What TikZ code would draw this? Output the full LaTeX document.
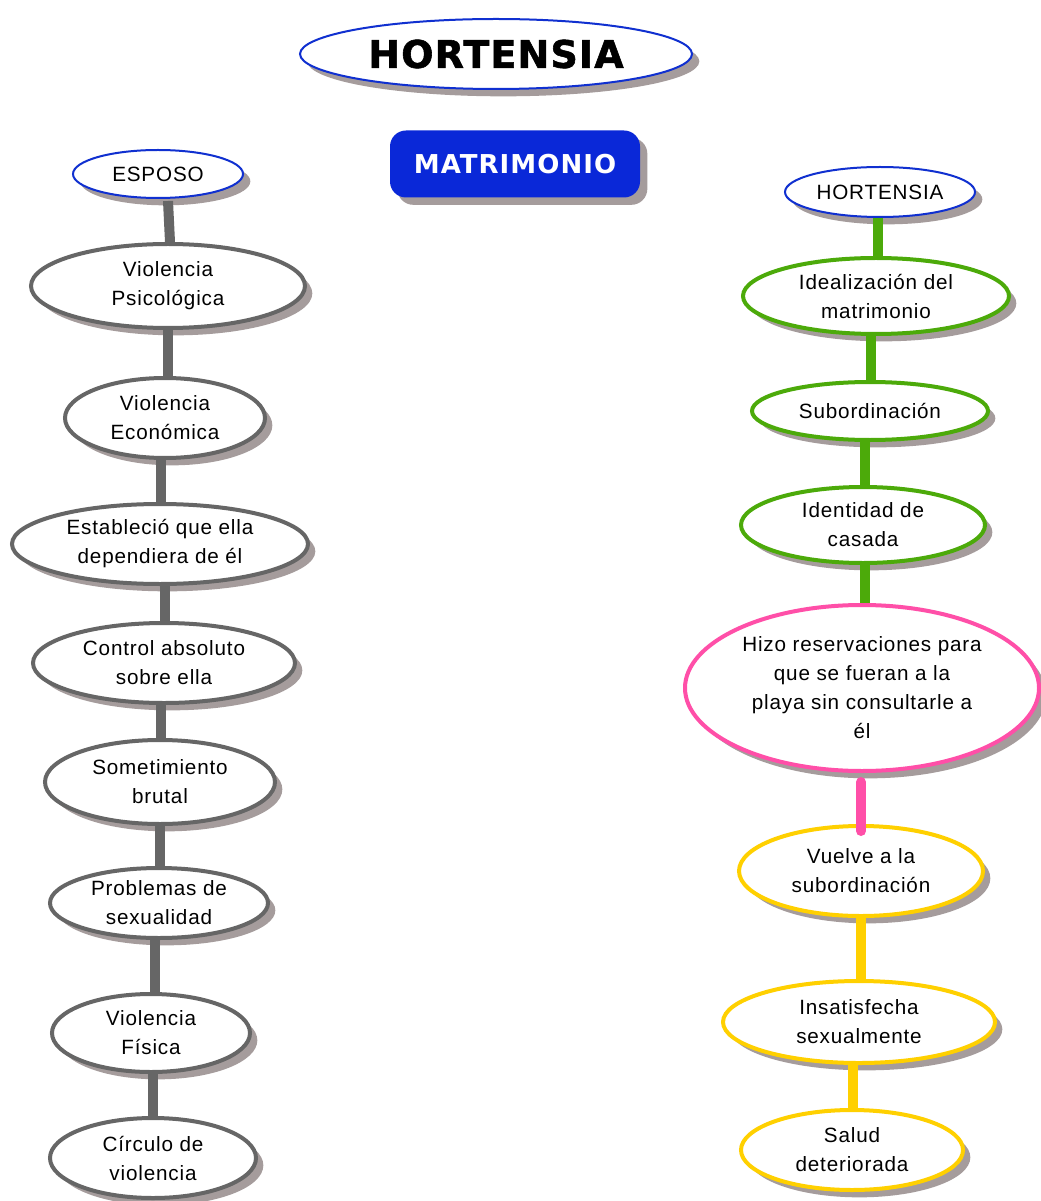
\documentclass[tikz,border=0pt]{standalone}
\usepackage{fontspec}
\setmainfont{Liberation Sans}[LetterSpace=4]
\newfontfamily\headfont{DejaVu Sans}[LetterSpace=4]
\newfontfamily\heavyfont{DejaVu Sans}[LetterSpace=3, FakeBold=1.5]
\usetikzlibrary{shapes.geometric,shadows,calc}

\definecolor{shadowc}{HTML}{A59C9C}
\definecolor{bluec}{HTML}{1030D0}
\definecolor{matblue}{HTML}{0A28D8}
\definecolor{grayc}{HTML}{666666}
\definecolor{greenc}{HTML}{4CAA0A}
\definecolor{pinkc}{HTML}{FF4FA8}
\definecolor{yellowc}{HTML}{FFD000}

\tikzset{
  sz/.style 2 args={minimum width=#1*1.5pt, minimum height=#2*1.5pt},
  shad/.style={drop shadow={shadow xshift=5.5pt, shadow yshift=-5.5pt, fill=shadowc, opacity=1}},
  bub/.style={ellipse, fill=white, inner sep=0pt, align=center, text=black,
    font=\fontsize{15.5}{21.75}\selectfont, shad},
  bluebub/.style={bub, draw=bluec, line width=1.5pt},
  graybub/.style={bub, draw=grayc, line width=3pt},
  greenbub/.style={bub, draw=greenc, line width=3pt},
  pinkbub/.style={bub, draw=pinkc, line width=3pt},
  yellowbub/.style={bub, draw=yellowc, line width=3pt},
  link/.style={line width=7.5pt},
  graylink/.style={link, draw=grayc},
  greenlink/.style={link, draw=greenc},
  yellowlink/.style={link, draw=yellowc},
}

\begin{document}
\begin{tikzpicture}[x=0.75pt, y=-0.75pt]
\useasboundingbox[fill=white] (0,0) rectangle (1040,1201);

% headings
\node[ellipse, draw=bluec, line width=1.5pt, fill=white, inner sep=0pt, sz={196}{35}, shad,
  font=\heavyfont\bfseries\fontsize{28.5}{30}\selectfont] (title) at (496,54) {HORTENSIA};
\node[rectangle, rounded corners=12pt, fill=matblue, sz={125}{33.5}, shad, text=white,
  font=\headfont\bfseries\fontsize{19.5}{24}\selectfont] (matri) at (515,164) {MATRIMONIO};

% husband column
\node[bluebub, sz={85}{24}] (esposo) at (158,174) {ESPOSO};
\node[graybub, sz={137}{42}] (vpsi) at (168,286) {Violencia\\Psicológica};
\node[graybub, sz={100}{40}] (veco) at (165,418) {Violencia\\Económica};
\node[graybub, sz={148}{40}] (dep) at (160,544) {Estableció que ella\\dependiera de él};
\node[graybub, sz={131}{40}] (ctrl) at (164,663) {Control absoluto\\sobre ella};
\node[graybub, sz={115}{42}] (som) at (160,782) {Sometimiento\\brutal};
\node[graybub, sz={109}{35}] (sex) at (159,903) {Problemas de\\sexualidad};
\node[graybub, sz={99}{39}] (vfis) at (151,1033) {Violencia\\Física};
\node[graybub, sz={103}{40}] (circ) at (153,1158) {Círculo de\\violencia};

% Hortensia column
\node[bluebub, sz={95}{25}] (hort) at (880,192) {HORTENSIA};
\node[greenbub, sz={133}{38}] (ideal) at (876,296) {Idealización del\\matrimonio};
\node[greenbub, sz={118}{29}] (sub) at (870,411) {Subordinación};
\node[greenbub, sz={122}{38}] (ident) at (863,525) {Identidad de\\casada};
\node[pinkbub, sz={177}{83}] (hizo) at (862,688) {Hizo reservaciones para\\que se fueran a la\\playa sin consultarle a\\él};
\node[yellowbub, sz={122}{45}] (vuelve) at (861,871) {Vuelve a la\\subordinación};
\node[yellowbub, sz={136}{41}] (insat) at (859,1022) {Insatisfecha\\sexualmente};
\node[yellowbub, sz={111}{40}] (salud) at (852,1150) {Salud\\deteriorada};

% connectors, left
\draw[graylink] ($(esposo.south)+(10,2)$) -- ($(vpsi.north)+(2,0)$);
\draw[graylink] (vpsi.south) -- (vpsi.south |- veco.north);
\draw[graylink] ($(veco.south)+(-4,0)$) -- ($(veco.south |- dep.north)+(-4,0)$);
\draw[graylink] ($(dep.south)+(5,0)$) -- ($(dep.south |- ctrl.north)+(5,0)$);
\draw[graylink] ($(ctrl.south)+(-3,0)$) -- ($(ctrl.south |- som.north)+(-3,0)$);
\draw[graylink] (som.south) -- (som.south |- sex.north);
\draw[graylink] ($(sex.south)+(-4,0)$) -- ($(sex.south |- vfis.north)+(-4,0)$);
\draw[graylink] ($(vfis.south)+(2,0)$) -- ($(vfis.south |- circ.north)+(2,0)$);

% connectors, right
\draw[greenlink] ($(hort.south)+(-2,0)$) -- ($(hort.south |- ideal.north)+(-2,0)$);
\draw[greenlink] ($(ideal.south)+(-5,0)$) -- ($(ideal.south |- sub.north)+(-5,0)$);
\draw[greenlink] ($(sub.south)+(-5,0)$) -- ($(sub.south |- ident.north)+(-5,0)$);
\draw[greenlink] ($(ident.south)+(2,0)$) -- ($(ident.south |- hizo.north)+(2,0)$);
\draw[link, draw=pinkc, line cap=round] ($(hizo.south)+(-1,9)$) -- ($(hizo.south |- vuelve.north)+(-1,7)$);
\draw[yellowlink] (vuelve.south) -- (vuelve.south |- insat.north);
\draw[yellowlink] ($(insat.south)+(-6,0)$) -- ($(insat.south |- salud.north)+(-6,0)$);
\end{tikzpicture}
\end{document}
